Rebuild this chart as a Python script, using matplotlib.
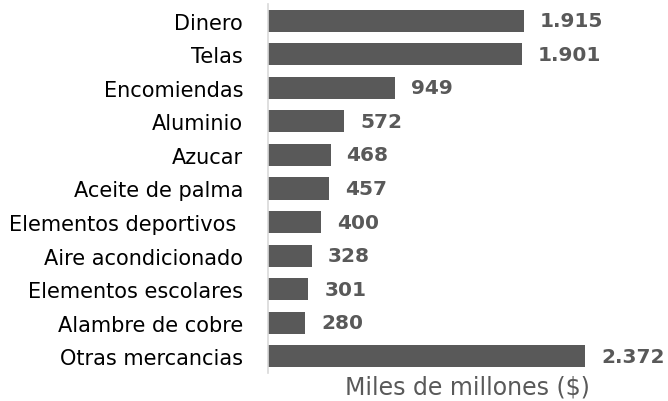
import matplotlib
matplotlib.use('Agg')
import matplotlib.pyplot as plt

categorias = ['Dinero', 'Telas', 'Encomiendas', 'Aluminio', 'Azucar', 'Aceite de palma',
              'Elementos deportivos ', 'Aire acondicionado', 'Elementos escolares',
              'Alambre de cobre', 'Otras mercancias']
valores = [1915, 1901, 949, 572, 468, 457, 400, 328, 301, 280, 2372]
etiquetas = ['1.915', '1.901', '949', '572', '468', '457', '400', '328', '301', '280', '2.372']

plt.rcParams['font.family'] = ['DejaVu Sans']

fig = plt.figure(figsize=(6.68, 4.02), dpi=100)
ax = fig.add_axes([268 / 668, 1 - 374 / 402, 334 / 668, 369 / 402])

pos = list(range(len(categorias)))
ax.barh(pos, valores, height=0.66, color='#595959')
ax.set_ylim(len(categorias) - 0.5, -0.5)
ax.set_xlim(0, 2500)

for p, v, t in zip(pos, valores, etiquetas):
    ax.text(v + 120, p, t, va='center', ha='left', fontsize=14.5,
            fontweight='bold', color='#595959')

ax.set_yticks(pos)
ax.set_yticklabels(categorias, fontsize=15, color='black')
ax.tick_params(axis='y', length=0, pad=18)
ax.set_xticks([])
for s in ['top', 'right', 'bottom']:
    ax.spines[s].set_visible(False)
ax.spines['left'].set_color('#d9d9d9')
ax.spines['left'].set_linewidth(1.2)

ax.set_xlabel('Miles de millones ($)', fontsize=17, color='#595959')
ax.xaxis.set_label_coords((467 - 268) / 334, -0.005)
ax.xaxis.label.set_va('top')

fig.savefig('out.png', dpi=100)
